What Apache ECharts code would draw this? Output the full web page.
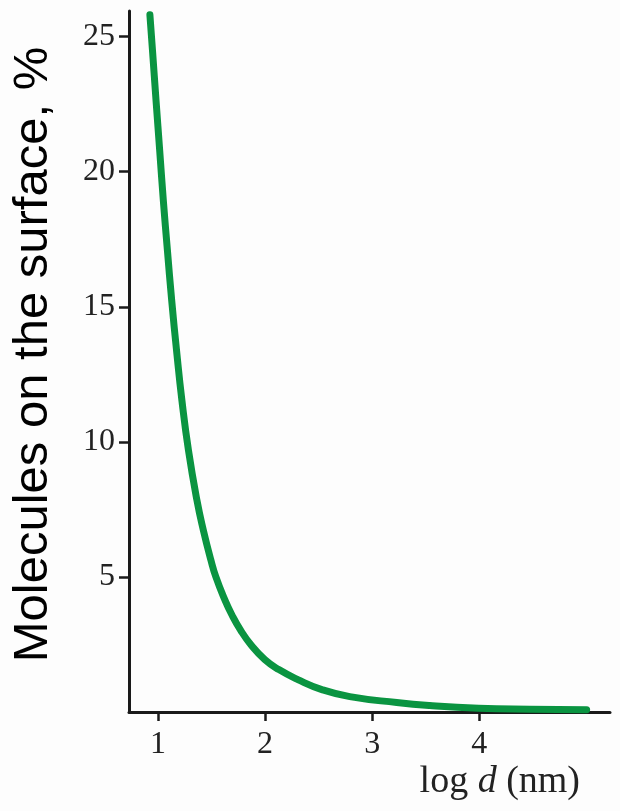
<!DOCTYPE html>
<html>
<head>
<meta charset="utf-8">
<script src="https://cdn.jsdelivr.net/npm/echarts@6/dist/echarts.min.js"></script>
<style>
html,body{margin:0;padding:0;background:#fdfdfd;}
#c{width:620px;height:811px;}
</style>
</head>
<body>
<div id="c"></div>
<script>
var logD = [0.925, 0.950, 0.983, 1.017, 1.051, 1.089, 1.129, 1.174, 1.224, 1.285, 1.364, 1.424, 1.494, 1.541, 1.625, 1.690, 1.770, 1.868, 1.998, 2.129, 2.306, 2.530, 2.791, 3.229, 3.537, 3.994, 4.470, 5.002];
var surfacePct = [25.81, 24.45, 22.60, 20.76, 18.91, 17.07, 15.22, 13.38, 11.53, 9.69, 7.84, 6.73, 5.63, 5.00, 4.15, 3.60, 3.04, 2.49, 1.94, 1.57, 1.20, 0.83, 0.57, 0.35, 0.24, 0.14, 0.10, 0.08];
var xTicks = [1, 2, 3, 4];
var yTicks = [5, 10, 15, 20, 25];

var chart = echarts.init(document.getElementById('c'));
var data = logD.map(function (x, i) { return [x, surfacePct[i]]; });
chart.setOption({
  backgroundColor: '#fdfdfd',
  animation: false,
  grid: { left: 129, right: 10, top: 11, bottom: 99, containLabel: false, outerBoundsMode: 'none' },
  xAxis: {
    type: 'value', min: 0.73, max: 5.22,
    axisLine: { show: true, onZero: false, lineStyle: { color: '#1a1a1a', width: 3 } },
    axisTick: { show: true, length: 9, inside: false, customValues: xTicks, lineStyle: { color: '#1a1a1a', width: 2.5 } },
    axisLabel: { customValues: xTicks, margin: 17, fontFamily: 'Liberation Serif', fontSize: 32, color: '#222' },
    splitLine: { show: false },
    name: '{a|log }{b|d}{a| (nm)}',
    nameLocation: 'end', nameGap: 0,
    nameTextStyle: {
      align: 'right', verticalAlign: 'top', padding: [51, 30, 0, 0],
      rich: {
        a: { fontFamily: 'Liberation Serif', fontSize: 38, color: '#222' },
        b: { fontFamily: 'Liberation Serif', fontStyle: 'italic', fontSize: 38, color: '#222' }
      }
    }
  },
  yAxis: {
    type: 'value', min: 0, max: 25.95,
    axisLine: { show: true, lineStyle: { color: '#1a1a1a', width: 3 } },
    axisTick: { show: true, length: 10, customValues: yTicks, lineStyle: { color: '#1a1a1a', width: 2.5 } },
    axisLabel: { customValues: yTicks, margin: 14, fontFamily: 'Liberation Serif', fontSize: 32, color: '#222' },
    splitLine: { show: false },
    name: 'Molecules on the surface, %',
    nameLocation: 'middle', nameGap: 71, nameRotate: 90,
    nameTextStyle: { fontFamily: 'Liberation Sans', fontSize: 49, color: '#000', padding: [0, 0, 0, 14] }
  },
  series: [{
    type: 'line', data: data, smooth: 0.5, showSymbol: false,
    lineStyle: { color: '#0a9441', width: 7, cap: 'round', join: 'round' }
  }]
});
</script>
</body>
</html>
